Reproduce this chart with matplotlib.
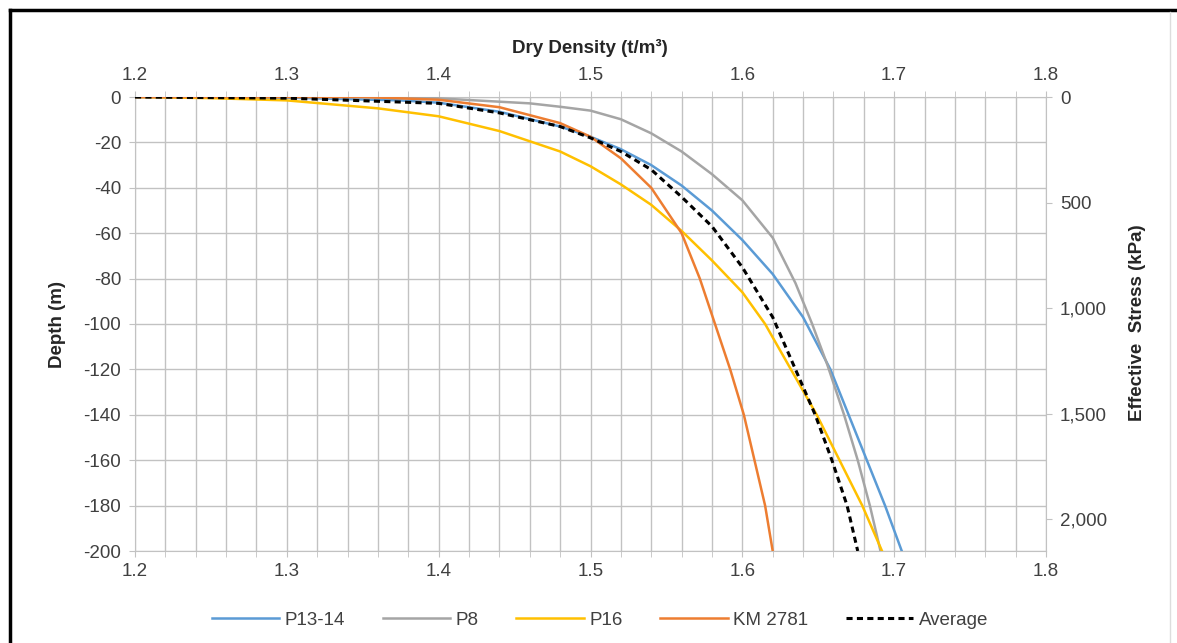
import matplotlib as mpl
mpl.use('Agg')
import matplotlib.pyplot as plt
from matplotlib.ticker import MultipleLocator, FuncFormatter
from matplotlib.lines import Line2D

plt.rcParams['font.family'] = ['Liberation Sans', 'DejaVu Sans']
plt.rcParams['axes.unicode_minus'] = False

# density (t/m3) / depth (m)
p1314_x = [1.20, 1.30, 1.375, 1.40, 1.44, 1.48, 1.50, 1.52, 1.54, 1.56, 1.58, 1.60, 1.62,
           1.64, 1.658, 1.670, 1.682, 1.694, 1.705]
p1314_y = [0, -0.3, -1.5, -2.5, -6.5, -13, -17.5, -23, -30, -39, -50, -63, -78,
           -97, -120, -140, -160, -180, -200]

p8_x = [1.20, 1.35, 1.40, 1.46, 1.48, 1.50, 1.52, 1.54, 1.56, 1.58, 1.60, 1.62, 1.635,
        1.646, 1.656, 1.667, 1.676, 1.684, 1.691]
p8_y = [0, 0, -0.6, -2.8, -4.3, -6, -9.8, -16, -24, -34, -45.5, -62, -82,
        -100, -118, -140, -160, -180, -200]

p16_x = [1.20, 1.25, 1.30, 1.36, 1.40, 1.44, 1.48, 1.50, 1.52, 1.54, 1.56, 1.58, 1.60,
         1.615, 1.632, 1.649, 1.664, 1.679, 1.692]
p16_y = [0, -0.5, -1.5, -5, -8.5, -15, -24, -30.5, -38.5, -47.5, -59, -72, -86,
         -100, -120, -140, -160, -180, -200]

km_x = [1.20, 1.35, 1.40, 1.44, 1.48, 1.50, 1.52, 1.54, 1.56, 1.572,
        1.582, 1.592, 1.601, 1.608, 1.615, 1.620]
km_y = [0, 0, -1.2, -4.5, -11.5, -17.5, -27, -40, -60, -80,
        -100, -120, -140, -160, -180, -200]

avg_x = [1.20, 1.30, 1.40, 1.44, 1.48, 1.50, 1.52, 1.54, 1.56, 1.58, 1.60, 1.62,
         1.635, 1.648, 1.659, 1.669, 1.676]
avg_y = [0, -0.5, -2.8, -7, -13, -18, -24, -32, -44, -57, -75, -97,
         -120, -140, -160, -180, -200]

series_names = ['P13-14', 'P8', 'P16', 'KM 2781', 'Average']
series_colors = ['#5B9BD5', '#A5A5A5', '#FFC000', '#ED7D31', 'black']

x_ticks = [1.2, 1.3, 1.4, 1.5, 1.6, 1.7, 1.8]
stress_ticks = [0, 500, 1000, 1500, 2000]

txt = '#404040'
grid = '#c2c2c2'
fs = 13.5
W, H = 1177, 643

fig = plt.figure(figsize=(11.77, 6.43), dpi=100)
ax = fig.add_axes([135 / W, 1 - 551 / H, 911 / W, 454 / H])

data = [(p1314_x, p1314_y), (p8_x, p8_y), (p16_x, p16_y), (km_x, km_y)]
for (xs, ys), c in zip(data, series_colors[:4]):
    ax.plot(xs, ys, color=c, lw=1.8, solid_joinstyle='round', zorder=3)
ax.plot(avg_x, avg_y, color='black', lw=2.2, ls=(0, (2.0, 1.4)), zorder=4)

ax.set_xlim(1.2, 1.8)
ax.set_ylim(-200, 0)
ax.set_xticks(x_ticks)
ax.xaxis.set_minor_locator(MultipleLocator(0.02))
ax.yaxis.set_major_locator(MultipleLocator(20))
ax.xaxis.set_major_formatter(FuncFormatter(lambda v, p: '%.1f' % v))
ax.grid(True, which='both', axis='x', color=grid, lw=1.0)
ax.grid(True, which='major', axis='y', color=grid, lw=1.0)
ax.set_axisbelow(True)
for s in ax.spines.values():
    s.set_color(grid)
ax.tick_params(axis='x', which='both', top=True, labeltop=True, direction='out',
               length=4, color=grid, labelsize=fs, labelcolor=txt, pad=5)
ax.tick_params(axis='y', which='both', length=4, color=grid, labelsize=fs,
               labelcolor=txt, pad=6)

ax2 = ax.twinx()
ax2.set_ylim(2150, 0)
ax2.set_yticks(stress_ticks)
ax2.yaxis.set_major_formatter(FuncFormatter(lambda v, p: '{:,.0f}'.format(v)))
for s in ax2.spines.values():
    s.set_visible(False)
ax2.tick_params(axis='y', length=4, color=grid, labelsize=fs, labelcolor=txt, pad=6)

# axis titles
fig.text(590 / W, 1 - 48 / H, 'Dry Density (t/m³)', ha='center', va='center',
         fontsize=fs, fontweight='bold', color='#262626')
fig.text(58 / W, 1 - 325 / H, 'Depth (m)', ha='center', va='center', rotation=90,
         fontsize=fs, fontweight='bold', color='#262626')
fig.text(1137 / W, 1 - 323 / H, 'Effective  Stress (kPa)', ha='center', va='center',
         rotation=90, fontsize=fs, fontweight='bold', color='#262626')

handles = [Line2D([], [], color=c, lw=1.8) for c in series_colors[:4]]
handles.append(Line2D([], [], color='black', lw=2.2, ls=(0, (2.0, 1.4))))
fig.legend(handles, series_names, loc='center', bbox_to_anchor=(600 / W, 1 - 620 / H), ncol=5,
           frameon=False, fontsize=fs, handlelength=3.6, columnspacing=2.0,
           handletextpad=0.3, labelcolor=txt)

# screenshot frame
fig.add_artist(Line2D([10 / W, 1.0], [1 - 10 / H] * 2, color='black', lw=2.5,
                      transform=fig.transFigure))
fig.add_artist(Line2D([10 / W] * 2, [0, 1 - 10 / H], color='black', lw=2.5,
                      transform=fig.transFigure))
fig.add_artist(Line2D([1170 / W] * 2, [0, 1 - 12 / H], color='#dddddd', lw=1,
                      transform=fig.transFigure))

plt.savefig('out.png', dpi=100)
plt.close()
